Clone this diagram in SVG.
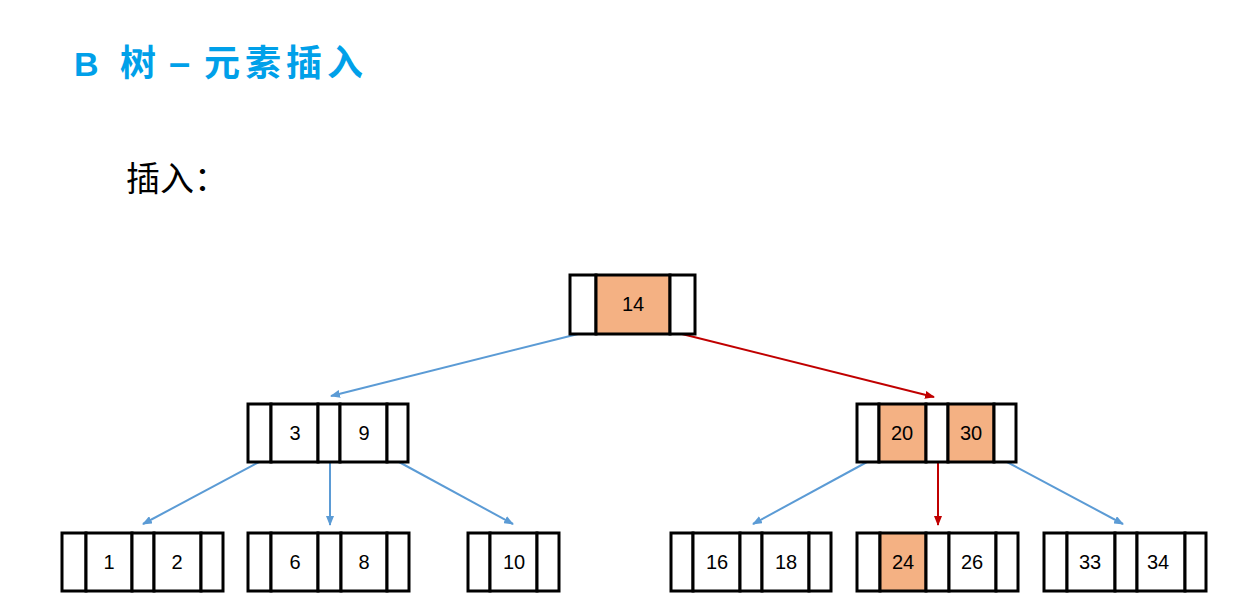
<svg xmlns="http://www.w3.org/2000/svg" width="1235" height="616" viewBox="0 0 1235 616">
<style>
.cell{fill:#fff;stroke:#000;stroke-width:3}
.hl{fill:#F4B183;stroke:#000;stroke-width:3}
.num{font-family:"Liberation Sans",Arial,sans-serif;font-size:20px;fill:#000;text-anchor:middle;dominant-baseline:central}
.blue{stroke:#5B9BD5;stroke-width:2;fill:none}
.red{stroke:#C00000;stroke-width:2;fill:none}
</style>
<defs>
<marker id="ab" markerUnits="userSpaceOnUse" markerWidth="10" markerHeight="8" refX="9" refY="4" orient="auto"><path d="M0,0 L10,4 L0,8 Z" fill="#5B9BD5"/></marker>
<marker id="ar" markerUnits="userSpaceOnUse" markerWidth="10" markerHeight="8" refX="9" refY="4" orient="auto"><path d="M0,0 L10,4 L0,8 Z" fill="#C00000"/></marker>
</defs>
<rect width="1235" height="616" fill="#fff"/>
<text y="76" font-family="'Liberation Sans','Noto Sans CJK SC',sans-serif" font-weight="bold" font-size="34" fill="#00A0E9"><tspan x="74">B</tspan><tspan x="120" font-size="36">树</tspan><tspan x="169" font-family="'Liberation Sans',sans-serif" font-size="38">–</tspan><tspan x="204" font-size="36" letter-spacing="5">元素插入</tspan></text>
<text x="126" y="191" font-family="'Noto Sans CJK SC',sans-serif" font-size="34" fill="#000">插入：</text>

<g id="connectors">
<line class="blue" x1="578" y1="334" x2="331" y2="396" marker-end="url(#ab)"/>
<line class="red" x1="682" y1="334" x2="934" y2="397" marker-end="url(#ar)"/>
<line class="blue" x1="259" y1="462" x2="143" y2="524" marker-end="url(#ab)"/>
<line class="blue" x1="330" y1="462" x2="330" y2="525" marker-end="url(#ab)"/>
<line class="blue" x1="399" y1="462" x2="513" y2="524" marker-end="url(#ab)"/>
<line class="blue" x1="867" y1="462" x2="753" y2="524" marker-end="url(#ab)"/>
<line class="red" x1="938" y1="462" x2="938" y2="525" marker-end="url(#ar)"/>
<line class="blue" x1="1007" y1="462" x2="1123" y2="524" marker-end="url(#ab)"/>
</g>

<g id="root">
<rect class="cell" x="570" y="275" width="26" height="59"/>
<rect class="hl" x="596" y="275" width="74" height="59"/>
<rect class="cell" x="670" y="275" width="25" height="59"/>
<text class="num" x="633" y="304">14</text>
</g>

<g id="n3_9">
<rect class="cell" x="248" y="404" width="23" height="58"/>
<rect class="cell" x="271" y="404" width="47" height="58"/>
<rect class="cell" x="318" y="404" width="22" height="58"/>
<rect class="cell" x="340" y="404" width="47" height="58"/>
<rect class="cell" x="387" y="404" width="21" height="58"/>
<text class="num" x="295" y="433">3</text>
<text class="num" x="364" y="433">9</text>
</g>

<g id="n20_30">
<rect class="cell" x="857" y="404" width="22" height="58"/>
<rect class="hl" x="879" y="404" width="47" height="58"/>
<rect class="cell" x="926" y="404" width="22" height="58"/>
<rect class="hl" x="948" y="404" width="46" height="58"/>
<rect class="cell" x="994" y="404" width="22" height="58"/>
<text class="num" x="902" y="433">20</text>
<text class="num" x="971" y="433">30</text>
</g>

<g id="n1_2">
<rect class="cell" x="62" y="533" width="24" height="58"/>
<rect class="cell" x="86" y="533" width="46" height="58"/>
<rect class="cell" x="132" y="533" width="22" height="58"/>
<rect class="cell" x="154" y="533" width="47" height="58"/>
<rect class="cell" x="201" y="533" width="22" height="58"/>
<text class="num" x="109" y="562">1</text>
<text class="num" x="177" y="562">2</text>
</g>

<g id="n6_8">
<rect class="cell" x="248" y="533" width="23" height="58"/>
<rect class="cell" x="271" y="533" width="47" height="58"/>
<rect class="cell" x="318" y="533" width="23" height="58"/>
<rect class="cell" x="341" y="533" width="46" height="58"/>
<rect class="cell" x="387" y="533" width="22" height="58"/>
<text class="num" x="295" y="562">6</text>
<text class="num" x="364" y="562">8</text>
</g>

<g id="n10">
<rect class="cell" x="468" y="533" width="22" height="58"/>
<rect class="cell" x="490" y="533" width="47" height="58"/>
<rect class="cell" x="537" y="533" width="22" height="58"/>
<text class="num" x="514" y="562">10</text>
</g>

<g id="n16_18">
<rect class="cell" x="671" y="533" width="22" height="58"/>
<rect class="cell" x="693" y="533" width="47" height="58"/>
<rect class="cell" x="740" y="533" width="22" height="58"/>
<rect class="cell" x="762" y="533" width="47" height="58"/>
<rect class="cell" x="809" y="533" width="22" height="58"/>
<text class="num" x="717" y="562">16</text>
<text class="num" x="786" y="562">18</text>
</g>

<g id="n24_26">
<rect class="cell" x="857" y="533" width="23" height="58"/>
<rect class="hl" x="880" y="533" width="46" height="58"/>
<rect class="cell" x="926" y="533" width="23" height="58"/>
<rect class="cell" x="949" y="533" width="47" height="58"/>
<rect class="cell" x="996" y="533" width="22" height="58"/>
<text class="num" x="903" y="562">24</text>
<text class="num" x="972" y="562">26</text>
</g>

<g id="n33_34">
<rect class="cell" x="1044" y="533" width="23" height="58"/>
<rect class="cell" x="1067" y="533" width="48" height="58"/>
<rect class="cell" x="1115" y="533" width="22" height="58"/>
<rect class="cell" x="1137" y="533" width="48" height="58"/>
<rect class="cell" x="1185" y="533" width="21" height="58"/>
<text class="num" x="1090" y="562">33</text>
<text class="num" x="1158" y="562">34</text>
</g>
</svg>
